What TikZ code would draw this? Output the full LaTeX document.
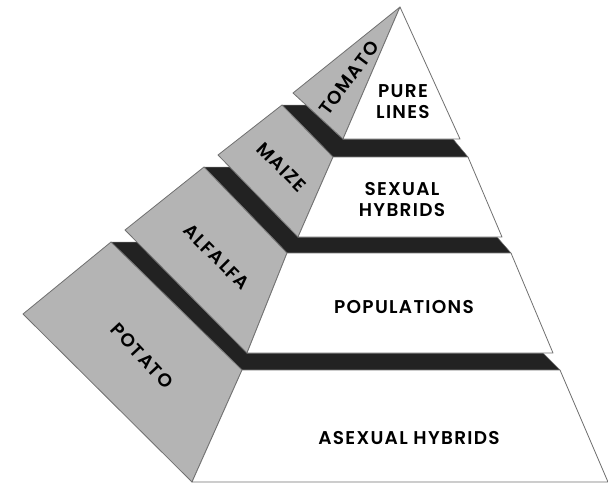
\documentclass[tikz,border=0pt]{standalone}
\usepackage{fontspec}
\setmainfont{Poppins}
\newfontfamily\pyrfont{Poppins}[LetterSpace=7.0,BoldFont={* SemiBold}]
\usetikzlibrary{positioning}
\definecolor{pyrSide}{HTML}{B4B4B4}
\definecolor{pyrLedge}{HTML}{222222}
\definecolor{pyrEdge}{HTML}{707070}

\begin{document}
\begin{tikzpicture}[x=1pt,y=-1pt,
    face/.style={fill=white,draw=pyrEdge,line width=0.8pt,line join=round},
    side/.style={fill=pyrSide,draw=pyrEdge,line width=0.8pt,line join=round},
    ledge/.style={fill=pyrLedge,draw=pyrEdge,line width=0.5pt,line join=round},
    lbl/.style={font=\pyrfont\bfseries\fontsize{18.5}{21}\selectfont,
                align=center,inner sep=0pt}]

  \useasboundingbox (0,0) rectangle (608,483);

  % ledges (top of each step)
  \draw[ledge] (282,105) -- (306,105) -- (343,139) -- (453,139) -- (468,157) -- (333,157) -- cycle;
  \draw[ledge] (204,167) -- (230,167) -- (298,237) -- (497,237) -- (511,253) -- (287,253) -- cycle;
  \draw[ledge] (111,242) -- (137,242) -- (247,353) -- (543,353) -- (560,370) -- (242,370) -- cycle;

  % left faces
  \draw[side] (400,7) -- (293,93) -- (343,139) -- cycle;
  \draw[side] (282,105) -- (218,155) -- (298,237) -- (333,157) -- cycle;
  \draw[side] (204,167) -- (125,230) -- (247,353) -- (287,253) -- cycle;
  \draw[side] (111,242) -- (23,314) -- (192,482) -- (242,370) -- cycle;

  % front faces
  \draw[face] (400,7) -- (343,139) -- (460,139) -- cycle;
  \draw[face] (333,157) -- (468,157) -- (502,237) -- (298,237) -- cycle;
  \draw[face] (287,253) -- (511,253) -- (553,353) -- (247,353) -- cycle;
  \draw[face] (242,370) -- (560,370) -- (608,482) -- (192,482) -- cycle;

  % labels
  \node[lbl] (pure) at (403,102) {PURE\\LINES};
  \node[lbl] (sexual) at (402,200) {SEXUAL\\HYBRIDS};
  \node[lbl] (popul) at (404,307) {POPULATIONS};
  \node[lbl] (asexual) at (409,438) {ASEXUAL HYBRIDS};

  \node[lbl,rotate=53] (tomato) at (349,78) {TOMATO};
  \node[lbl,rotate=-45] (maize) at (282,167) {MAIZE};
  \node[lbl,rotate=-45] (alfalfa) at (217,257) {ALFALFA};
  \node[lbl,rotate=-47] (potato) at (142,356) {POTATO};
\end{tikzpicture}
\end{document}
